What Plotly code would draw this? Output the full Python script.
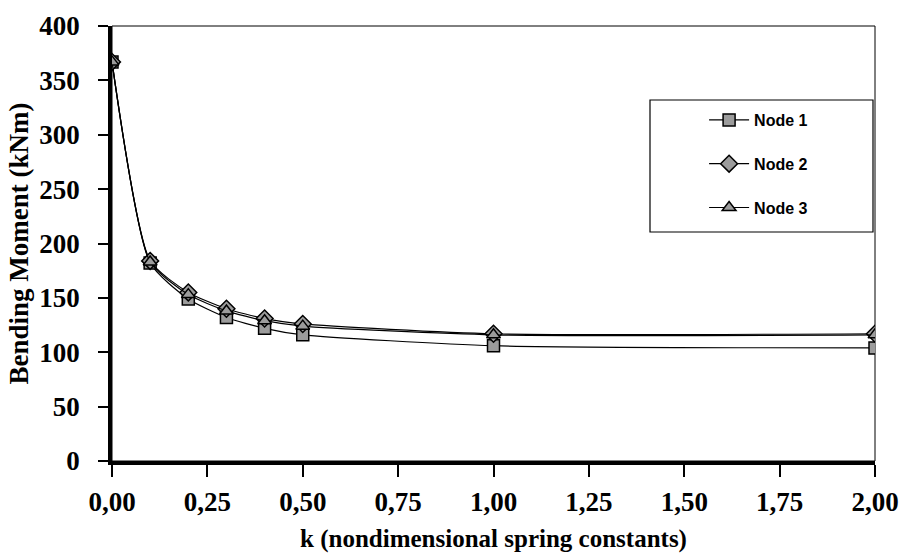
import plotly.graph_objects as go

k_values = [0.0, 0.1, 0.2, 0.3, 0.4, 0.5, 1.0, 2.0]
node1 = [367, 182, 149, 132, 122, 116, 106, 104]
node2 = [367, 184, 155, 140, 131, 126, 117, 117]
node3 = [367, 183, 153, 138, 129, 124, 116, 116]
series_names = ["Node 1", "Node 2", "Node 3"]
symbols = ["square", "diamond", "triangle-up"]
x_tick_vals = [0, 0.25, 0.5, 0.75, 1.0, 1.25, 1.5, 1.75, 2.0]
x_tick_text = ["0,00", "0,25", "0,50", "0,75", "1,00", "1,25", "1,50", "1,75", "2,00"]
y_tick_vals = [0, 50, 100, 150, 200, 250, 300, 350, 400]

fig = go.Figure()
for i, (name, ys, sym) in enumerate(zip(series_names, [node1, node2, node3], symbols)):
    fig.add_trace(go.Scatter(
        x=k_values, y=ys, name=name, mode="lines+markers",
        line=dict(color="black", width=1.2, shape="spline", smoothing=0.6),
        marker=dict(symbol=sym, size=12 if sym != "diamond" else 13,
                    color="#9c9c9c", line=dict(color="black", width=1.5)),
        legendgroup=f"g{i}",
    ))

serif = "Liberation Serif, Times New Roman, serif"
fig.update_layout(
    width=907, height=553,
    margin=dict(l=112, r=32, t=26, b=92, autoexpand=False),
    paper_bgcolor="white", plot_bgcolor="white",
    showlegend=True,
    legend=dict(x=0.776, y=0.823, xanchor="left", yanchor="top",
                bgcolor="rgba(0,0,0,0)", borderwidth=0,
                font=dict(family="Liberation Sans, Arial, sans-serif", size=16,
                          color="black", weight="bold"),
                tracegroupgap=20, itemwidth=40),
    xaxis=dict(range=[0, 2.0], tickvals=x_tick_vals, ticktext=x_tick_text,
               automargin=False,
               showgrid=False, zeroline=False, showline=True, linecolor="black", linewidth=3.5,
               ticks="outside", ticklen=12, tickwidth=2, tickcolor="black",
               ticklabelstandoff=2,
               tickfont=dict(family=serif, size=27, color="black", weight="bold"),
               title=dict(text="k (nondimensional spring constants)", standoff=14,
                          font=dict(family=serif, size=25, color="black", weight="bold"))),
    yaxis=dict(range=[0, 400], tickvals=y_tick_vals,
               automargin=False,
               showgrid=False, zeroline=False, showline=True, linecolor="black", linewidth=3.5,
               ticks="outside", ticklen=10, tickwidth=2, tickcolor="black",
               ticklabelstandoff=13,
               tickfont=dict(family=serif, size=27, color="black", weight="bold"),
               title=dict(text="Bending Moment (kNm)", standoff=4,
                          font=dict(family=serif, size=27, color="black", weight="bold"))),
    shapes=[
        dict(type="rect", xref="paper", yref="paper", x0=0, x1=1, y0=0, y1=1,
             line=dict(color="black", width=1), layer="below"),
        dict(type="rect", xref="paper", yref="paper",
             x0=(650 - 112) / 763, x1=(873 - 112) / 763,
             y0=(461 - 232) / 435, y1=(461 - 100) / 435,
             line=dict(color="black", width=1.2), layer="below"),
    ],
)

fig.write_html("out.html")
